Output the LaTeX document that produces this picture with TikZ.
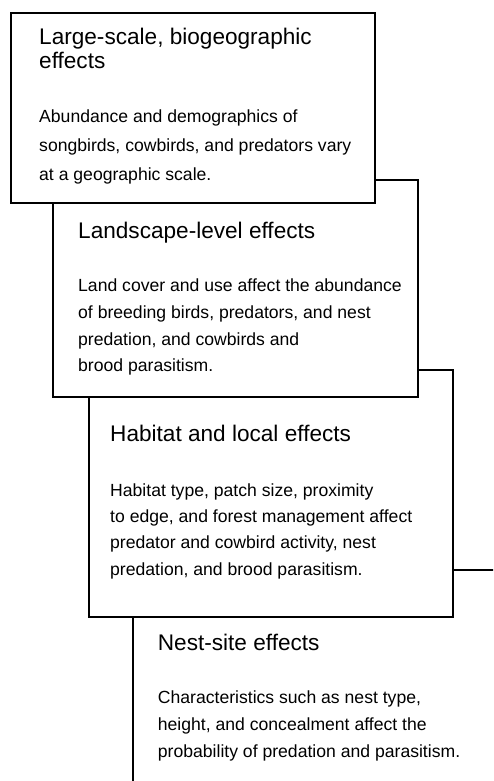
\documentclass[tikz,border=0pt]{standalone}
\usepackage{fontspec}
\setmainfont{Liberation Sans}
\begin{document}
\begin{tikzpicture}[x=1pt,y=-1pt,
  box/.style={draw=black, fill=white, line width=1.9pt, rectangle, inner sep=0pt, outer sep=0pt, anchor=north west},
  ttl/.style={anchor=base west, inner sep=0pt, align=left, font=\fontsize{22.6}{23.3}\selectfont},
  bdy/.style={anchor=base west, inner sep=0pt, align=left, font=\fontsize{17.6}{#1}\selectfont},
]
\useasboundingbox (0,0) rectangle (493,781);
\begin{scope}
\clip (0,0) rectangle (493,781);
\node[box, minimum width=400, minimum height=260] (b4) at (133.3,570) {};
\node[box, minimum width=364, minimum height=247.3] (b3) at (89,370) {};
\node[box, minimum width=364.4, minimum height=217.3] (b2) at (53.3,180) {};
\node[box, minimum width=364, minimum height=190.3] (b1) at (11,13) {};
\end{scope}
% base anchor of a multi-line node is the baseline of its last line
\node[ttl] (t1) at (39,68.3) {Large-scale, biogeographic\\effects};
\node[bdy=28.7] (d1) at (39,180) {Abundance and demographics of\\songbirds, cowbirds, and predators vary\\at a geographic scale.};
\node[ttl] (t2) at (78,238.3) {Landscape-level effects};
\node[bdy=26.7] (d2) at (78,371.7) {Land cover and use affect the abundance\\of breeding birds, predators, and nest\\predation, and cowbirds and\\brood parasitism.};
\node[ttl] (t3) at (110,441.7) {Habitat and local effects};
\node[bdy=26.1] (d3) at (110,575) {Habitat type, patch size, proximity\\to edge, and forest management affect\\predator and cowbird activity, nest\\predation, and brood parasitism.};
\node[ttl] (t4) at (157.7,650) {Nest-site effects};
\node[bdy=26.7] (d4) at (157.7,757.3) {Characteristics such as nest type,\\height, and concealment affect the\\probability of predation and parasitism.};
\end{tikzpicture}
\end{document}
